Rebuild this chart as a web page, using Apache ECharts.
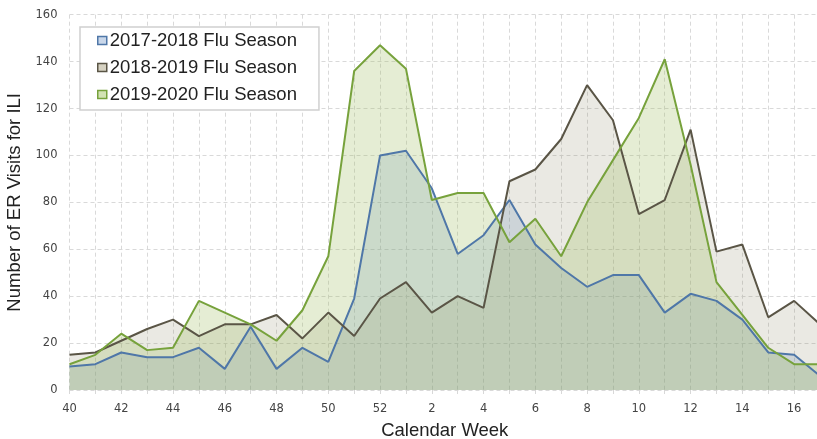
<!DOCTYPE html>
<html>
<head>
<meta charset="utf-8">
<script src="https://cdn.jsdelivr.net/npm/echarts@6/dist/echarts.min.js"></script>
<style>
  html, body { margin: 0; padding: 0; background: #fff; }
  #chart { width: 817px; height: 439px; }
</style>
</head>
<body>
<div id="chart"></div>
<script>
// 数据：日历周 + 三个流感季
const weeks = ["40", "41", "42", "43", "44", "45", "46", "47", "48", "49", "50", "51", "52",
  "1", "2", "3", "4", "5", "6", "7", "8", "9", "10", "11", "12", "13", "14", "15", "16", "17"];
const season1718 = [10, 11, 16, 14, 14, 18, 9, 27, 9, 18, 12, 39, 100,
  102, 86, 58, 66, 81, 62, 52, 44, 49, 49, 33, 41, 38, 30, 16, 15, 6];
const season1819 = [15, 16, 21, 26, 30, 23, 28, 28, 32, 22, 33, 23, 39,
  46, 33, 40, 35, 89, 94, 107, 130, 115, 75, 81, 111, 59, 62, 31, 38, 28];
const season1920 = [11, 15, 24, 17, 18, 38, 33, 28, 21, 34, 57, 136, 147,
  137, 81, 84, 84, 63, 73, 57, 80, 98, 116, 141, 96, 46, 32, 18, 11, 11];
const seasonNames = ["2017-2018 Flu Season", "2018-2019 Flu Season", "2019-2020 Flu Season"];

const lineColors = ["#4f77a8", "#5a5546", "#77a23c"];
const fillColors = ["rgba(79,129,189,0.28)", "rgba(138,128,96,0.25)", "rgba(155,187,89,0.37)"];
const iconFills = ["#c9d7ea", "#d6d2c2", "#d3e3b4"];

const chart = echarts.init(document.getElementById("chart"));

function makeSeries(name, data, i) {
  return {
    name: name,
    type: "line",
    data: data,
    symbol: "none",
    lineStyle: { color: lineColors[i], width: 2 },
    itemStyle: { color: lineColors[i] },
    areaStyle: { color: fillColors[i] },
  };
}

const option = {
  animation: false,
  textStyle: { fontFamily: "Liberation Sans, Arial, sans-serif" },
  grid: { left: 69.5, right: -3, top: 14.7, bottom: 49, outerBoundsMode: "none", containLabel: false },
  legend: {
    orient: "vertical",
    left: 80,
    top: 27,
    padding: [4, 22, 6, 17],
    itemGap: 8,
    itemWidth: 9,
    itemHeight: 8,
    backgroundColor: "#fff",
    borderColor: "#d0d0d0",
    borderWidth: 1.5,
    textStyle: { fontSize: 18.5, color: "#222", lineHeight: 18, padding: [0, 0, 0, -2] },
    data: seasonNames.map((n, i) => ({
      name: n,
      icon: "rect",
      itemStyle: { color: iconFills[i], borderColor: lineColors[i], borderWidth: 1.5 },
    })),
  },
  xAxis: {
    type: "category",
    data: weeks,
    boundaryGap: false,
    name: "Calendar Week",
    nameLocation: "middle",
    nameGap: 31,
    nameTextStyle: { fontSize: 18.5, color: "#222" },
    axisLine: { show: false },
    axisTick: { show: true, interval: 0, length: 4, lineStyle: { color: "#d8d8d8" } },
    axisLabel: { interval: 1, fontSize: 11.5, color: "#444", margin: 13, fontFamily: "DejaVu Sans" },
    splitLine: { show: true, interval: 0, lineStyle: { color: "#d9d9d9", type: [4, 3] } },
  },
  yAxis: {
    type: "value",
    min: 0,
    max: 160,
    interval: 20,
    name: "Number of ER Visits for ILI",
    nameLocation: "middle",
    nameGap: 37,
    nameTextStyle: { fontSize: 18.5, color: "#222" },
    axisLine: { show: false },
    axisTick: { show: false },
    axisLabel: { fontSize: 11.5, color: "#444", margin: 12, fontFamily: "DejaVu Sans" },
    splitLine: { show: true, lineStyle: { color: "#d9d9d9", type: [4, 3] } },
  },
  series: [
    makeSeries(seasonNames[0], season1718, 0),
    makeSeries(seasonNames[1], season1819, 1),
    makeSeries(seasonNames[2], season1920, 2),
  ],
};

chart.setOption(option);
</script>
</body>
</html>
